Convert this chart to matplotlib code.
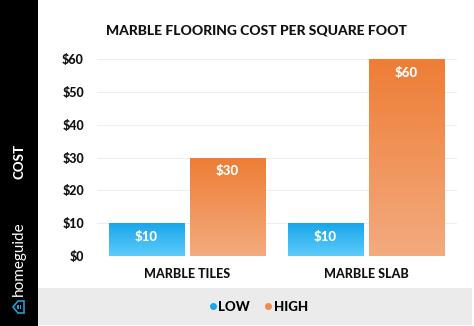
import numpy as np
import matplotlib
matplotlib.use("Agg")
import matplotlib.pyplot as plt
from matplotlib.patches import Rectangle, Polygon
from matplotlib.lines import Line2D
from matplotlib.colors import LinearSegmentedColormap

categories = ["MARBLE TILES", "MARBLE SLAB"]
series_names = ["LOW", "HIGH"]
low_values = [10, 10]
high_values = [30, 60]
yticks = [0, 10, 20, 30, 40, 50, 60]
ytick_labels = ["$0", "$10", "$20", "$30", "$40", "$50", "$60"]
title = "MARBLE FLOORING COST PER SQUARE FOOT"
ylabel = "COST"
brand = "homeguide"

plt.rcParams['font.family'] = ['Lato', 'DejaVu Sans']
WT = "black"

W, H = 474, 326
fig = plt.figure(figsize=(W / 100, H / 100), dpi=100)
fig.patch.set_facecolor("white")

# left black strip
fig.patches.append(Rectangle((0, 0), 38 / W, 1, transform=fig.transFigure,
                             facecolor="black", edgecolor="none", zorder=0))
# grey legend band
fig.patches.append(Rectangle((38 / W, 1 / H), (472 - 38) / W, (325 - 288) / H,
                             transform=fig.transFigure, facecolor="#ebebeb",
                             edgecolor="none", zorder=0))

ax = fig.add_axes([97 / W, (326 - 256) / H, (457 - 97) / W, (256 - 59) / H])
ax.set_facecolor("none")

x = np.arange(len(categories))
off = 0.226
bw = 0.419

cmap_low = LinearSegmentedColormap.from_list("low", ["#1aa6ea", "#5cccfa"])
cmap_high = LinearSegmentedColormap.from_list("high", ["#ee7d35", "#f3ab7f"])

bars_low = ax.bar(x - off, low_values, bw, color="none", edgecolor="none")
bars_high = ax.bar(x + off, high_values, bw, color="none", edgecolor="none")

grad = np.linspace(0, 1, 256).reshape(-1, 1)
for bars, cmap in ((bars_low, cmap_low), (bars_high, cmap_high)):
    for b in bars:
        x0, y0 = b.get_x(), b.get_y()
        w, h = b.get_width(), b.get_height()
        im = ax.imshow(grad, cmap=cmap, aspect="auto", origin="upper",
                       extent=(x0, x0 + w, y0, y0 + h), zorder=2)
        im.set_clip_path(b)
        ax.text(x0 + w / 2, y0 + h - 4.2, f"${int(h)}", ha="center",
                va="center", color="white", fontsize=9.5, fontweight=WT,
                zorder=3)

ax.set_xlim(-0.503, 1.508)
ax.set_ylim(0, 60)
ax.set_yticks(yticks)
ax.set_yticklabels(ytick_labels, fontsize=9, fontweight=WT)
ax.set_xticks(x)
ax.set_xticklabels(categories, fontsize=9, fontweight=WT)
ax.tick_params(axis="both", length=0, colors="#111111")
ax.tick_params(axis="y", pad=9.5)
ax.tick_params(axis="x", pad=9)
ax.grid(axis="y", color="#eeeeee", linewidth=0.8, zorder=0)
ax.set_axisbelow(True)
for s in ax.spines.values():
    s.set_visible(False)

fig.text(257 / W, 1 - 30 / H, title, ha="center", va="center",
         fontsize=10, fontweight=WT, color="#111111")
fig.text(19 / W, 1 - 161 / H, ylabel, ha="center", va="center",
         rotation=90, fontsize=9.5, fontweight=WT, color="white")
fig.text(19 / W, 1 - 259 / H, brand, ha="center", va="center",
         rotation=90, fontsize=11, color="white")

# small house icon (rotated, roof pointing left)
cx, cy = 19, 307
pts = [(cx + 5, cy + 6), (cx + 5, cy - 6), (cx - 1, cy - 6), (cx - 6, cy),
       (cx - 1, cy + 6)]
fig.patches.append(Polygon([(px / W, 1 - py / H) for px, py in pts],
                           closed=True, transform=fig.transFigure,
                           facecolor="none", edgecolor="#1a9fd8",
                           linewidth=1.2))
for dx in (-0.8, 1.6):
    for dy in (-1.2, 1.2):
        fig.patches.append(Rectangle(((cx + dx - 0.8) / W, 1 - (cy + dy + 0.8) / H),
                                     1.6 / W, 1.6 / H, transform=fig.transFigure,
                                     facecolor="#1a9fd8", edgecolor="none"))

handles = [Line2D([], [], marker="o", linestyle="none", markersize=4,
                  color="#1aa6ea"),
           Line2D([], [], marker="o", linestyle="none", markersize=4,
                  color="#ee8a4e")]
leg = fig.legend(handles, series_names, loc="center",
                 bbox_to_anchor=(259 / W, 1 - 307 / H), ncol=2, frameon=False,
                 handlelength=0.4, handletextpad=0.2, columnspacing=1.2,
                 prop={"weight": WT, "size": 9.5})

fig.savefig("out.png", dpi=100)
